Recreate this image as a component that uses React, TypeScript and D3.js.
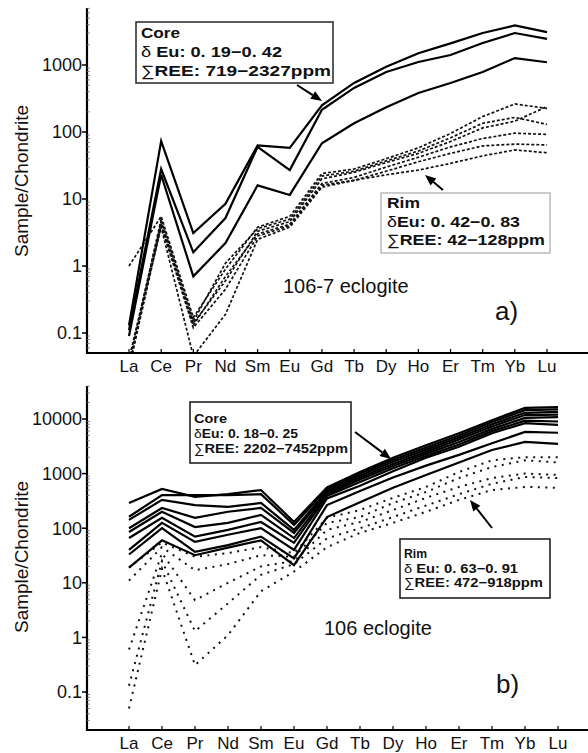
import React from "react";
import * as d3 from "d3";

const ELEMENTS = ["La", "Ce", "Pr", "Nd", "Sm", "Eu", "Gd", "Tb", "Dy", "Ho", "Er", "Tm", "Yb", "Lu"];

// Panel a) 106-7 eclogite
const coreA1 = [0.13, 73, 3.1, 8.5, 63, 58, 250, 540, 940, 1500, 2100, 3000, 3900, 3100];
const coreA2 = [0.11, 28, 1.6, 5.2, 60, 27, 215, 455, 785, 1110, 1410, 2130, 3000, 2450];
const coreA3 = [0.09, 23, 0.7, 2.2, 16, 11.5, 68, 135, 234, 383, 540, 785, 1270, 1100];
const rimA1 = [1.0, 5.5, 0.17, 0.9, 3.8, 5.5, 24, 28, 40, 58, 95, 170, 262, 225];
const rimA2 = [0.035, 5.0, 0.15, 1.1, 3.6, 5.0, 22, 26, 37, 52, 82, 135, 165, 130];
const rimA3 = [0.04, 4.6, 0.14, 0.6, 3.3, 4.6, 20, 25, 35, 48, 72, 115, 145, 240];
const rimA4 = [0.03, 4.3, 0.13, 0.7, 3.0, 4.2, 17, 21, 30, 42, 60, 80, 96, 92];
const rimA5 = [0.03, 4.0, 0.12, 0.45, 2.8, 4.0, 16, 19, 26, 36, 48, 62, 66, 64];
const rimA6 = [0.04, 3.8, 0.045, 0.19, 2.5, 3.8, 15, 19, 23, 27, 34, 44, 54, 49];

// Panel b) 106 eclogite
const coreB1 = [290, 525, 375, 420, 500, 130, 560, 1070, 1950, 3300, 5500, 9500, 16000, 16500];
const coreB2 = [162, 405, 405, 405, 420, 115, 520, 1000, 1800, 3000, 5000, 8800, 14500, 15000];
const coreB3 = [142, 330, 265, 245, 290, 93, 480, 920, 1650, 2750, 4600, 8000, 13000, 13500];
const coreB4 = [100, 235, 155, 200, 235, 82, 450, 850, 1500, 2500, 4200, 7300, 11800, 12000];
const coreB5 = [85, 200, 105, 125, 175, 66, 420, 780, 1380, 2300, 3800, 6600, 10500, 10800];
const coreB6 = [66, 155, 70, 93, 130, 54, 390, 700, 1250, 2100, 3400, 6000, 9300, 9000];
const coreB7 = [40, 125, 56, 76, 100, 40, 350, 600, 1100, 1950, 3100, 5500, 8400, 7800];
const coreB8 = [33, 100, 37, 49, 70, 28, 265, 480, 850, 1400, 2200, 3600, 5800, 5600];
const coreB9 = [19, 60, 32, 44, 60, 21, 160, 300, 550, 940, 1600, 2700, 3800, 3500];
const rimB1 = [19, 55, 30, 35, 45, 35, 155, 215, 360, 570, 1070, 1750, 2000, 2000];
const rimB2 = [11, 45, 17, 22, 32, 30, 125, 160, 290, 460, 830, 1320, 1750, 1600];
const rimB3 = [0.6, 35, 4.8, 10, 20, 25, 93, 130, 215, 360, 570, 830, 1000, 950];
const rimB4 = [0.13, 25, 1.3, 4.2, 14, 22, 65, 100, 160, 260, 420, 650, 870, 830];
const rimB5 = [0.05, 18, 0.31, 1.1, 7, 16, 45, 82, 125, 200, 330, 500, 570, 550];

const ticksA = [0.1, 1, 10, 100, 1000];
const ticksB = [0.1, 1, 10, 100, 1000, 10000];

const FONT = "'Liberation Sans', Arial, Helvetica, sans-serif";

type Panel = {
  id: string;
  top: number;
  bottom: number;
  yDomain: [number, number];
  yRange: [number, number];
  xRange: [number, number];
  ticks: number[];
  core: number[][];
  rim: number[][];
  rimDash: string;
  rimWidth: number;
  rimCap: "butt" | "round";
};

function Arrow({ x1, y1, x2, y2 }: { x1: number; y1: number; x2: number; y2: number }) {
  const ang = Math.atan2(y2 - y1, x2 - x1);
  const L = 11;
  const W = 4.5;
  const bx = x2 - L * Math.cos(ang);
  const by = y2 - L * Math.sin(ang);
  const px = -Math.sin(ang) * W;
  const py = Math.cos(ang) * W;
  return (
    <g>
      <line x1={x1} y1={y1} x2={bx} y2={by} stroke="#000" strokeWidth={2} />
      <polygon points={`${x2},${y2} ${bx + px},${by + py} ${bx - px},${by - py}`} fill="#000" />
    </g>
  );
}

function PanelView({ p }: { p: Panel }) {
  const x = d3.scalePoint<string>().domain(ELEMENTS).range(p.xRange);
  const y = d3.scaleLog().domain(p.yDomain).range(p.yRange);
  const line = d3
    .line<number>()
    .x((_, i) => x(ELEMENTS[i]) as number)
    .y((v) => y(v));
  const axisX = 87;
  const minor: number[] = [];
  const lo = Math.floor(Math.log10(y.invert(p.bottom)));
  const hi = Math.ceil(Math.log10(y.invert(p.top)));
  for (let e = lo; e <= hi; e++) {
    for (let k = 2; k <= 9; k++) {
      const v = k * Math.pow(10, e);
      const py = y(v);
      if (py > p.top && py < p.bottom) minor.push(v);
    }
  }
  return (
    <g>
      <defs>
        <clipPath id={`clip-${p.id}`}>
          <rect x={axisX} y={p.top} width={588 - axisX} height={p.bottom - p.top} />
        </clipPath>
      </defs>
      <g clipPath={`url(#clip-${p.id})`}>
        {p.rim.map((s, i) => (
          <path
            key={`r${i}`}
            d={line(s) || ""}
            fill="none"
            stroke="#111"
            strokeWidth={p.rimWidth}
            strokeDasharray={p.rimDash}
            strokeLinecap={p.rimCap}
          />
        ))}
        {p.core.map((s, i) => (
          <path key={`c${i}`} d={line(s) || ""} fill="none" stroke="#000" strokeWidth={2.2} strokeLinejoin="miter" />
        ))}
      </g>
      {/* axes */}
      <line x1={axisX} y1={p.top} x2={axisX} y2={p.bottom + 1} stroke="#000" strokeWidth={2.2} />
      <line x1={axisX - 1} y1={p.bottom} x2={588} y2={p.bottom} stroke="#000" strokeWidth={2.2} />
      {minor.map((v, i) => (
        <line key={`m${i}`} x1={axisX} x2={axisX + 3} y1={y(v)} y2={y(v)} stroke="#777" strokeWidth={0.8} />
      ))}
      {p.ticks.map((t) => (
        <g key={`t${t}`}>
          <line x1={axisX - 5} x2={axisX} y1={y(t)} y2={y(t)} stroke="#000" strokeWidth={1.5} />
          <text
            x={axisX - 5}
            y={y(t)}
            dy="0.35em"
            textAnchor="end"
            fontFamily={FONT}
            fontSize={18}
            fill="#111"
          >
            {String(t)}
          </text>
        </g>
      ))}
      {ELEMENTS.map((el) => (
        <g key={el}>
          <line
            x1={x(el)}
            x2={x(el)}
            y1={p.bottom}
            y2={p.bottom - 4}
            stroke="#000"
            strokeWidth={1.2}
          />
          <text
            x={x(el)}
            y={p.bottom + 19}
            textAnchor="middle"
            fontFamily={FONT}
            fontSize={17}
            fill="#111"
          >
            {el}
          </text>
        </g>
      ))}
    </g>
  );
}

function InfoBox({
  x,
  y,
  w,
  h,
  stroke,
  strokeWidth,
  tx,
  lines,
  fontSize,
}: {
  x: number;
  y: number;
  w: number;
  h: number;
  stroke: string;
  strokeWidth: number;
  tx: number;
  lines: { base: number; parts: { t: string; bold: boolean; dx?: number }[]; len: number }[];
  fontSize: number;
}) {
  return (
    <g>
      <rect x={x} y={y} width={w} height={h} fill="#fff" stroke={stroke} strokeWidth={strokeWidth} />
      {lines.map((l, i) => (
        <text
          key={i}
          x={tx}
          y={l.base}
          fontFamily={FONT}
          fontSize={fontSize}
          fill="#111"
          textLength={l.len}
          lengthAdjust="spacingAndGlyphs"
        >
          {l.parts.map((pt, j) => (
            <tspan key={j} fontWeight={pt.bold ? "bold" : "normal"} dx={pt.dx}>
              {pt.t}
            </tspan>
          ))}
        </text>
      ))}
    </g>
  );
}

export default function App() {
  const panelA: Panel = {
    id: "a",
    top: 8,
    bottom: 353,
    yDomain: [0.1, 1000],
    yRange: [333, 65],
    xRange: [129, 547],
    ticks: ticksA,
    core: [coreA1, coreA2, coreA3],
    rim: [rimA1, rimA2, rimA3, rimA4, rimA5, rimA6],
    rimDash: "3,2",
    rimWidth: 1.7,
    rimCap: "butt",
  };
  const panelB: Panel = {
    id: "b",
    top: 386,
    bottom: 730,
    yDomain: [0.1, 10000],
    yRange: [692, 419],
    xRange: [129, 558],
    ticks: ticksB,
    core: [coreB1, coreB2, coreB3, coreB4, coreB5, coreB6, coreB7, coreB8, coreB9],
    rim: [rimB1, rimB2, rimB3, rimB4, rimB5],
    rimDash: "2,5.5",
    rimWidth: 2,
    rimCap: "butt",
  };

  return (
    <svg width={588} height={753} style={{ display: "block", position: "absolute", left: 0, top: 0 }}>
      <rect x={0} y={0} width={588} height={753} fill="#fff" />
      <PanelView p={panelA} />
      <PanelView p={panelB} />

      {/* y axis titles */}
      <text
        transform="translate(28,181) rotate(-90)"
        textAnchor="middle"
        fontFamily={FONT}
        fontSize={19}
        fill="#111"
      >
        Sample/Chondrite
      </text>
      <text
        transform="translate(28,557) rotate(-90)"
        textAnchor="middle"
        fontFamily={FONT}
        fontSize={19}
        fill="#111"
      >
        Sample/Chondrite
      </text>

      {/* Panel a annotations */}
      <InfoBox
        x={136}
        y={22}
        w={197}
        h={61}
        stroke="#333"
        strokeWidth={1.6}
        tx={141}
        fontSize={15}
        lines={[
          { base: 38, parts: [{ t: "Core", bold: true }], len: 39 },
          {
            base: 57,
            parts: [
              { t: "δ", bold: false },
              { t: " Eu: 0. 19−0. 42", bold: true },
            ],
            len: 141,
          },
          {
            base: 76,
            parts: [
              { t: "∑", bold: false },
              { t: "REE: 719−2327ppm", bold: true },
            ],
            len: 190,
          },
        ]}
      />
      <Arrow x1={297} y1={85} x2={322} y2={101} />

      <InfoBox
        x={381}
        y={193}
        w={169}
        h={60}
        stroke="#aaa"
        strokeWidth={1.2}
        tx={387}
        fontSize={15}
        lines={[
          { base: 208, parts: [{ t: "Rim", bold: true }], len: 33 },
          {
            base: 227,
            parts: [
              { t: "δ", bold: false },
              { t: "Eu: 0. 42−0. 83", bold: true },
            ],
            len: 133,
          },
          {
            base: 245,
            parts: [
              { t: "∑", bold: false },
              { t: "REE: 42−128ppm", bold: true },
            ],
            len: 158,
          },
        ]}
      />
      <Arrow x1={443} y1={190} x2={425} y2={175} />

      <text x={283} y={293} fontFamily={FONT} fontSize={20} fill="#111">
        106-7 eclogite
      </text>
      <text x={495} y={320} fontFamily={FONT} fontSize={26} fill="#111">
        a)
      </text>

      {/* Panel b annotations */}
      <InfoBox
        x={190}
        y={402}
        w={161}
        h={61}
        stroke="#222"
        strokeWidth={1.6}
        tx={194}
        fontSize={13}
        lines={[
          { base: 423, parts: [{ t: "Core", bold: true }], len: 33 },
          {
            base: 438,
            parts: [
              { t: "δ", bold: false },
              { t: "Eu: 0. 18−0. 25", bold: true },
            ],
            len: 104,
          },
          {
            base: 453,
            parts: [
              { t: "∑", bold: false },
              { t: "REE: 2202−7452ppm", bold: true },
            ],
            len: 154,
          },
        ]}
      />
      <Arrow x1={355} y1={432} x2={391} y2={459} />

      <InfoBox
        x={400}
        y={539}
        w={150}
        h={59}
        stroke="#222"
        strokeWidth={1.6}
        tx={404}
        fontSize={13}
        lines={[
          { base: 558, parts: [{ t: "Rim", bold: true }], len: 23 },
          {
            base: 573,
            parts: [
              { t: "δ", bold: false },
              { t: " Eu: 0. 63−0. 91", bold: true },
            ],
            len: 114,
          },
          {
            base: 587,
            parts: [
              { t: "∑", bold: false },
              { t: "REE: 472−918ppm", bold: true },
            ],
            len: 139,
          },
        ]}
      />
      <Arrow x1={492} y1={528} x2={470} y2={500} />

      <text x={324} y={635} fontFamily={FONT} fontSize={20} fill="#111">
        106 eclogite
      </text>
      <text x={496} y={693} fontFamily={FONT} fontSize={26} fill="#111">
        b)
      </text>
    </svg>
  );
}
